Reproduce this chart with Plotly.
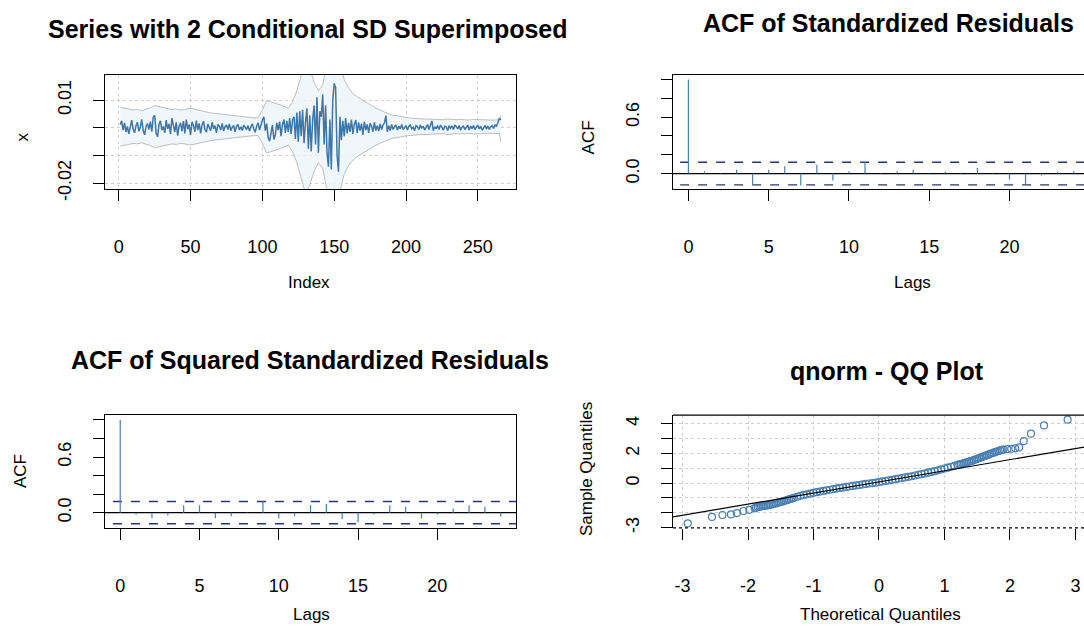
import plotly.graph_objects as go

W, H = 1084, 640

# ---------------- data ----------------
# panel 1: series (units of 1e-4) and +/- 2 conditional SD band
series_index = list(range(1, 267))
series_e4 = [
    12, 25, -8, 18, -15, 5, -22, 10, 28, -5, -18, 8, 20, -12, 3, 30, -10, -25, 6, 15,
    -6, 22, -14, 38, 45, -20, -32, 12, 25, -8, 5, -18, 28, -4, 14, -22, 35, 10, -15, 20,
    -28, 6, 18, -12, 24, -20, 30, -5, 12, -26, 22, 8, -14, 26, -8, 16, -20, 10, 24, -6,
    -16, 14, 4, -10, 20, -4, 8, -18, 12, 6, -8, 16, -12, 4, 10, -6, 14, -10, 2, 8,
    -14, 6, 12, -8, 4, -10, 10, 2, -6, 8, -12, 4, 14, -4, -16, 6, 18, -8, 12, 28,
    40, -10, 15, -35, -48, -20, 10, -42, -25, 18, -8, 22, -30, 12, 30, -18, 25, -15, 35, -22,
    28, 40, -40, 55, -50, 60, -30, 65, -55, 20, 70, -75, 45, -85, 30, 80, -60, 110, -90, 60,
    40, 120, -60, 80, -90, -140, 30, -150, 100, 160, 145, -100, -158, 40, -45, 25, -30, 35, -20, 18,
    -15, 30, -22, 12, 28, -18, 20, -10, 15, -25, 22, -8, 12, -18, 16, 6, -14, 20, -10, 8,
    -12, 14, -6, 10, 18, 44, -14, 8, -10, 12, -6, 4, 10, -8, 6, -4, 12, -6, 2, 8,
    -8, 6, 10, -4, 2, -10, 8, 4, -6, 10, -2, 6, -8, 4, 12, -6, 8, 25, -10, 4,
    -4, 8, -6, 10, 2, -8, 6, 4, -10, 8, -2, 6, -6, 10, 4, -4, 8, -8, 2, 6,
    -6, 4, 10, -8, 6, -2, 8, -6, 4, 10, -4, 6, -8, 2, 8, -4, 6, -6, 4, 8,
    -2, 10, 6, 18, 35, 28,
]
band_index = [1, 4, 7, 10, 13, 16, 19, 22, 25, 28, 31, 34, 37, 40, 43, 46, 49, 52, 55, 58,
              61, 64, 67, 70, 73, 76, 79, 82, 85, 88, 91, 94, 97, 100, 103, 106, 109, 112, 115, 118,
              121, 124, 127, 130, 133, 136, 139, 142, 145, 148, 151, 154, 157, 160, 163, 166, 169, 172, 175, 178,
              181, 184, 187, 190, 193, 196, 199, 202, 205, 208, 211, 214, 217, 220, 223, 226, 229, 232, 235, 238,
              241, 244, 247, 250, 253, 256, 259, 262, 265, 266]
band_upper_e4 = [74, 72, 68, 64, 66, 62, 66, 72, 80, 76, 72, 70, 66, 68, 64, 66, 70, 68, 64, 60,
                 56, 54, 52, 50, 48, 46, 44, 42, 40, 38, 37, 36, 36, 64, 99, 94, 88, 84, 78, 70,
                 94, 134, 194, 244, 214, 164, 134, 154, 234, 294, 304, 244, 174, 144, 124, 112, 102, 94, 84, 74,
                 66, 59, 52, 46, 44, 40, 38, 36, 34, 34, 32, 32, 31, 32, 30, 29, 32, 30, 29, 30,
                 29, 28, 30, 29, 28, 29, 28, 28, 29, 44]
band_lower_e4 = [-66, -64, -60, -56, -58, -54, -58, -64, -72, -68, -64, -62, -58, -60, -56, -58, -62, -60, -56, -52,
                 -48, -46, -44, -42, -40, -38, -36, -34, -32, -30, -29, -28, -28, -56, -91, -86, -80, -76, -70, -62,
                 -86, -126, -186, -236, -206, -156, -126, -146, -226, -286, -296, -236, -166, -136, -116, -104, -94, -86, -76, -66,
                 -58, -51, -44, -38, -36, -32, -30, -28, -26, -26, -24, -24, -23, -24, -22, -21, -24, -22, -21, -22,
                 -21, -20, -22, -21, -20, -21, -20, -20, -21, -50]

# panels 2 and 3: autocorrelations
acf_lags = list(range(0, 25))
acf_resid = [1.0, 0.025, -0.008, 0.04, -0.116, 0.04, 0.078, -0.127, 0.095, -0.074, 0.025, 0.12, 0.006,
             0.025, 0.04, -0.006, 0.02, 0.008, 0.06, 0.01, -0.064, -0.11, -0.02, 0.02, 0.025]
acf_sq = [1.0, -0.02, -0.062, -0.03, 0.08, 0.08, -0.062, -0.04, 0.005, 0.12, -0.062, -0.04, 0.08,
          0.095, -0.07, -0.103, -0.02, 0.08, 0.063, -0.062, -0.02, 0.045, 0.08, 0.063, -0.045]
ci_level = 0.12

# panel 4: normal QQ plot
qq_theoretical = [-2.92, -2.55, -2.39, -2.26, -2.17, -2.07, -1.98, -1.90,
                  -1.85, -1.80, -1.75, -1.70, -1.65, -1.60, -1.55, -1.50, -1.45, -1.40,
                  -1.35, -1.30, -1.25, -1.20, -1.15, -1.10, -1.05, -1.00, -0.95, -0.90,
                  -0.85, -0.80, -0.75, -0.70, -0.65, -0.60, -0.55, -0.50, -0.45, -0.40,
                  -0.35, -0.30, -0.25, -0.20, -0.15, -0.10, -0.05, 0.00, 0.05, 0.10,
                  0.15, 0.20, 0.25, 0.30, 0.35, 0.40, 0.45, 0.50, 0.55, 0.60,
                  0.65, 0.70, 0.75, 0.80, 0.85, 0.90, 0.95, 1.00, 1.05, 1.10,
                  1.15, 1.20, 1.25, 1.30, 1.35, 1.40, 1.45, 1.50, 1.55, 1.60,
                  1.65, 1.70, 1.75, 1.80, 1.85, 1.90,
                  1.96, 2.02, 2.08, 2.14, 2.21, 2.32, 2.52, 2.88,
                  -1.875, -1.825, -1.775, -1.725, -1.675, -1.625, -1.575, -1.525, -1.475, -1.425,
                  -1.375, -1.325, 1.225, 1.275, 1.325, 1.375, 1.425, 1.475, 1.525, 1.575,
                  1.625, 1.675, 1.725, 1.775, 1.825, 1.875]
qq_sample = [-2.72, -2.28, -2.15, -2.11, -2.02, -1.88, -1.80, -1.70,
             -1.62, -1.56, -1.53, -1.50, -1.45, -1.40, -1.33, -1.27, -1.21, -1.14,
             -1.07, -1.00, -0.92, -0.86, -0.80, -0.76, -0.71, -0.66, -0.61, -0.57,
             -0.53, -0.49, -0.45, -0.41, -0.37, -0.33, -0.30, -0.26, -0.23, -0.19,
             -0.16, -0.13, -0.09, -0.06, -0.03, 0.00, 0.03, 0.07, 0.11, 0.14,
             0.18, 0.22, 0.26, 0.30, 0.34, 0.38, 0.42, 0.46, 0.51, 0.56,
             0.60, 0.65, 0.70, 0.75, 0.80, 0.86, 0.92, 0.98, 1.04, 1.10,
             1.16, 1.22, 1.28, 1.34, 1.41, 1.48, 1.55, 1.63, 1.72, 1.80,
             1.88, 1.97, 2.05, 2.12, 2.20, 2.26,
             2.29, 2.31, 2.34, 2.40, 2.83, 3.33, 3.88, 4.27,
             -1.66, -1.58, -1.55, -1.51, -1.48, -1.42, -1.37, -1.30, -1.24, -1.18,
             -1.10, -1.04, 1.26, 1.31, 1.38, 1.45, 1.51, 1.60, 1.68, 1.76,
             1.84, 1.93, 2.01, 2.09, 2.16, 2.23]
qqline_x = [-3.4, 3.4]
qqline_y = [-2.47, 2.63]

# ---------------- styling helpers ----------------
FONT = "Liberation Sans, Arial, sans-serif"
STEEL = "#4a7fb0"
DASHBLUE = "#27367a"


def xp(px):
    return px / W


def yp(py):
    return 1 - py / H


def scale(v):
    return [a / 10000 for a in v]


fig = go.Figure()

# panel 1
fig.add_trace(go.Scatter(x=band_index, y=scale(band_lower_e4), mode="lines",
                         line=dict(color="#bdbdbd", width=1), xaxis="x", yaxis="y",
                         showlegend=False, hoverinfo="skip"))
fig.add_trace(go.Scatter(x=band_index, y=scale(band_upper_e4), mode="lines",
                         line=dict(color="#bdbdbd", width=1), fill="tonexty",
                         fillcolor="rgba(236,245,252,0.85)", xaxis="x", yaxis="y",
                         showlegend=False, hoverinfo="skip"))
fig.add_trace(go.Scatter(x=series_index, y=scale(series_e4), mode="lines",
                         line=dict(color="#3f76a8", width=1.5), xaxis="x", yaxis="y",
                         showlegend=False))


def acf_traces(lags, vals, xa, ya):
    sx, sy = [], []
    for k, v in zip(lags, vals):
        sx += [k, k, None]
        sy += [0, v, None]
    fig.add_trace(go.Scatter(x=[-5, 30], y=[0, 0], mode="lines", line=dict(color="black", width=1.2),
                             xaxis=xa, yaxis=ya, showlegend=False, hoverinfo="skip"))
    for lvl in (ci_level, -ci_level):
        fig.add_trace(go.Scatter(x=[-5, 30], y=[lvl, lvl], mode="lines",
                                 line=dict(color=DASHBLUE, width=1.4, dash="dash"),
                                 xaxis=xa, yaxis=ya, showlegend=False, hoverinfo="skip"))
    fig.add_trace(go.Scatter(x=sx, y=sy, mode="lines", line=dict(color=STEEL, width=1.2),
                             xaxis=xa, yaxis=ya, showlegend=False))


acf_traces(acf_lags, acf_resid, "x2", "y2")
acf_traces(acf_lags, acf_sq, "x3", "y3")

# panel 4
fig.add_trace(go.Scatter(x=qq_theoretical, y=qq_sample, mode="markers",
                         marker=dict(symbol="circle-open", size=7, color=STEEL, line=dict(width=1.2)),
                         xaxis="x4", yaxis="y4", showlegend=False))
fig.add_trace(go.Scatter(x=qqline_x, y=qqline_y, mode="lines", line=dict(color="black", width=1.2),
                         xaxis="x4", yaxis="y4", showlegend=False, hoverinfo="skip"))

tickfont = dict(family=FONT, size=18, color="black")
common = dict(ticks="outside", ticklen=11, tickwidth=1, tickcolor="black",
              linecolor="black", linewidth=1.2, zeroline=False, tickfont=tickfont)
gridstyle = dict(showgrid=True, gridcolor="#cfcfcf", griddash="dot", gridwidth=1)
nogrid = dict(showgrid=False)

L1, R1 = 105, 516
L2 = 673
T_TOP, B_TOP = 76, 193
T_BOT, B_BOT = 423, 538
XSO, YSO = 30, 15

fig.update_layout(
    width=W, height=H, margin=dict(l=0, r=0, t=0, b=0),
    paper_bgcolor="white", plot_bgcolor="white",
    xaxis=dict(domain=[xp(L1), xp(R1)], range=[-9.6, 276.6], tickvals=[0, 50, 100, 150, 200, 250],
               showline=True, mirror=True, ticklabelstandoff=XSO, anchor="y", **common, **gridstyle),
    yaxis=dict(domain=[yp(B_TOP), yp(T_TOP)], range=[-0.0222, 0.0192],
               tickvals=[-0.02, -0.01, 0, 0.01], ticktext=["-0.02", "", "", "0.01"],
               tickangle=-90, showline=True, mirror=True, ticklabelstandoff=YSO, anchor="x",
               **common, **gridstyle),
    xaxis2=dict(domain=[xp(L2), 1], range=[-0.96, 24.64], tickvals=[0, 5, 10, 15, 20],
                showline=True, mirror=True, ticklabelstandoff=XSO, anchor="y2", **common, **nogrid),
    yaxis2=dict(domain=[yp(B_TOP), yp(T_TOP)], range=[-0.168, 1.053],
                tickvals=[0, 0.2, 0.4, 0.6, 0.8, 1.0], ticktext=["0.0", "", "", "0.6", "", ""],
                tickangle=-90, showline=True, mirror=False, ticklabelstandoff=YSO, anchor="x2",
                **common, **nogrid),
    xaxis3=dict(domain=[xp(L1), xp(R1)], range=[-0.96, 24.96], tickvals=[0, 5, 10, 15, 20],
                showline=True, mirror=True, ticklabelstandoff=XSO, anchor="y3", **common, **nogrid),
    yaxis3=dict(domain=[yp(B_BOT), yp(T_BOT)], range=[-0.165, 1.053],
                tickvals=[0, 0.2, 0.4, 0.6, 0.8, 1.0], ticktext=["0.0", "", "", "0.6", "", ""],
                tickangle=-90, showline=True, mirror=True, ticklabelstandoff=YSO, anchor="x3",
                **common, **nogrid),
    xaxis4=dict(domain=[xp(L2), 1], range=[-3.145, 3.13], tickvals=[-3, -2, -1, 0, 1, 2, 3],
                ticktext=["-3", "-2", "-1", "0", "1", "2", "3"],
                showline=False, ticklabelstandoff=XSO, anchor="y4", **common, **gridstyle),
    yaxis4=dict(domain=[yp(B_BOT), yp(T_BOT)], range=[-3.02, 4.58],
                tickvals=[-3, -2, -1, 0, 1, 2, 3, 4], ticktext=["-3", "", "", "0", "", "2", "", "4"],
                tickangle=-90, showline=True, mirror=False, ticklabelstandoff=YSO, anchor="x4",
                **common, **gridstyle),
)

# QQ panel frame: solid top, dotted bottom
fig.add_shape(type="line", xref="paper", yref="paper", x0=xp(L2), x1=1, y0=yp(T_BOT), y1=yp(T_BOT),
              line=dict(color="black", width=1.2))
fig.add_shape(type="line", xref="paper", yref="paper", x0=xp(L2), x1=1, y0=yp(B_BOT), y1=yp(B_BOT),
              line=dict(color="black", width=1.4, dash="dot"))

title_font = dict(family="Liberation Sans, Arial, sans-serif", size=25, color="black", weight="bold")
label_font = dict(family=FONT, size=17, color="black")
annots = [
    ("Series with 2 Conditional SD Superimposed", 308, 30, 0, title_font, "middle"),
    ("ACF of Standardized Residuals", 888, 23, 0, title_font, "middle"),
    ("ACF of Squared Standardized Residuals", 310, 367, 0, title_font, "middle"),
    ("qnorm - QQ Plot", 887, 378, 0, title_font, "middle"),
    ("Index", 309, 288, 0, label_font, "middle"),
    ("Lags", 912, 288, 0, label_font, "middle"),
    ("Lags", 311, 638, 0, label_font, "bottom"),
    ("Theoretical Quantiles", 880, 638, 0, label_font, "bottom"),
    ("x", 22, 140, -90, label_font, "middle"),
    ("ACF", 588, 140, -90, label_font, "middle"),
    ("ACF", 20, 480, -90, label_font, "middle"),
    ("Sample Quantiles", 586, 478, -90, label_font, "middle"),
]
for text, ax_, ay_, ang, f, yanc in annots:
    fig.add_annotation(text=text, x=xp(ax_), y=yp(ay_), xref="paper", yref="paper",
                       showarrow=False, textangle=ang, font=f, xanchor="center", yanchor=yanc)

fig.write_html("out.html")
